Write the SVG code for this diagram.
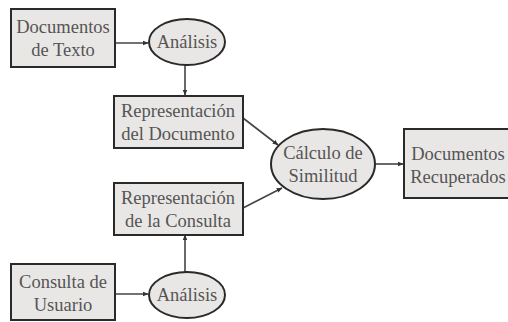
<svg xmlns="http://www.w3.org/2000/svg" width="508" height="322" viewBox="0 0 508 322">
  <style>
    .box { fill: #e9e7e5; stroke: #2a2a2a; stroke-width: 2; }
    .oval { fill: #e9e7e5; stroke: #2a2a2a; stroke-width: 2; }
    .lbl { font-size: 18.5px; fill: #555; text-anchor: middle; }
    .edge { stroke: #444; stroke-width: 1.6; fill: none; marker-end: url(#arrow); }
  </style>
  <defs>
    <marker id="arrow" viewBox="0 0 10 10" refX="9" refY="5" markerWidth="6" markerHeight="6" orient="auto" markerUnits="userSpaceOnUse">
      <path d="M0,1 L10,5 L0,9 z" fill="#333"/>
    </marker>
  </defs>
  <rect width="508" height="322" fill="#ffffff"/>

  <g id="connectors">
    <line class="edge" x1="115" y1="43" x2="148" y2="43"/>
    <line class="edge" x1="185" y1="65" x2="185" y2="95"/>
    <line class="edge" x1="243" y1="118" x2="278" y2="145"/>
    <line class="edge" x1="243" y1="208" x2="282" y2="188"/>
    <line class="edge" x1="185" y1="272" x2="185" y2="235"/>
    <line class="edge" x1="115" y1="294" x2="148" y2="294"/>
    <line class="edge" x1="375" y1="164" x2="403" y2="164"/>
  </g>

  <g font-family="Liberation Serif, Times New Roman, serif">
    <g id="documentos-texto">
      <rect class="box" x="11" y="9" width="104" height="58"/>
      <text class="lbl" x="63" y="33">Documentos</text>
      <text class="lbl" x="63" y="56">de Texto</text>
    </g>

    <g id="analisis-documentos">
      <ellipse class="oval" cx="187" cy="42" rx="38" ry="23"/>
      <text class="lbl" x="187" y="48">Análisis</text>
    </g>

    <g id="representacion-documento">
      <rect class="box" x="114" y="96" width="129" height="52"/>
      <text class="lbl" x="178" y="117">Representación</text>
      <text class="lbl" x="178" y="140">del Documento</text>
    </g>

    <g id="calculo-similitud">
      <ellipse class="oval" cx="323" cy="164" rx="52" ry="35"/>
      <text class="lbl" x="323" y="159">Cálculo de</text>
      <text class="lbl" x="323" y="182">Similitud</text>
    </g>

    <g id="documentos-recuperados">
      <rect class="box" x="404" y="129" width="112" height="69"/>
      <text class="lbl" x="458" y="160">Documentos</text>
      <text class="lbl" x="458" y="183">Recuperados</text>
    </g>

    <g id="representacion-consulta">
      <rect class="box" x="114" y="183" width="129" height="52"/>
      <text class="lbl" x="178" y="204">Representación</text>
      <text class="lbl" x="178" y="227">de la Consulta</text>
    </g>

    <g id="consulta-usuario">
      <rect class="box" x="11" y="264" width="104" height="56"/>
      <text class="lbl" x="63" y="288">Consulta de</text>
      <text class="lbl" x="63" y="311">Usuario</text>
    </g>

    <g id="analisis-consulta">
      <ellipse class="oval" cx="187" cy="295" rx="38" ry="23"/>
      <text class="lbl" x="187" y="301">Análisis</text>
    </g>
  </g>
</svg>
